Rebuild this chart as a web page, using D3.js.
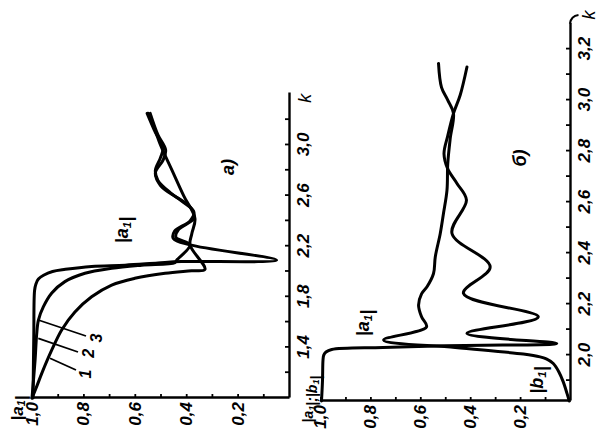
<!DOCTYPE html>
<html>
<head>
<meta charset="utf-8">
<script src="https://cdn.jsdelivr.net/npm/d3@7"></script>
<style>
  body { margin: 0; background: #fff; }
</style>
</head>
<body>
<div id="chart"></div>
<script>
// panel а): |a1| vs k, three cases (1, 2, 3) — [k, |a1|]
const curveA1 = [[1.0,1.0],[1.1,0.98],[1.195,0.962],[1.38,0.923],[1.54,0.884],[1.68,0.833],[1.8,0.768],
  [1.893,0.69],[1.946,0.6],[1.986,0.482],[2.006,0.379],[2.017,0.327],[2.21,0.385],[2.3,0.378],[2.42,0.366],
  [2.6,0.41],[2.8,0.455],[3.0,0.5],[3.17,0.53],[3.25,0.548]];
const curveA2 = [[1.0,1.0],[1.3,0.988],[1.5,0.982],[1.616,0.975],[1.72,0.956],[1.83,0.923],[1.92,0.872],
  [1.986,0.794],[2.025,0.69],[2.05,0.573],[2.07,0.444],[2.09,0.437],[2.21,0.385],[2.27,0.44],[2.33,0.43],
  [2.42,0.37],[2.5,0.38],[2.62,0.46],[2.72,0.51],[2.8,0.52],[2.9,0.5],[2.98,0.49],[3.1,0.52],[3.25,0.552]];
const curveA3 = [[1.0,0.996],[1.5,0.993],[1.85,0.99],[1.9,0.985],[1.94,0.975],[1.97,0.955],[2.0,0.92],
  [2.017,0.87],[2.04,0.768],[2.05,0.638],[2.067,0.51],[2.078,0.418],[2.09,0.048],[2.21,0.385],[2.26,0.45],
  [2.32,0.445],[2.4,0.385],[2.47,0.37],[2.56,0.42],[2.68,0.5],[2.78,0.52],[2.88,0.49],[2.96,0.48],
  [3.08,0.51],[3.25,0.54]];

// panel б): |a1| and |b1| vs k
const curveBa = [[1.82,0.996],[1.9,0.992],[1.98,0.99],[2.0,0.987],[2.012,0.978],[2.022,0.955],[2.03,0.75],
  [2.038,0.42],[2.046,0.053],[2.085,0.413],[2.15,0.127],[2.242,0.427],[2.346,0.32],[2.477,0.473],
  [2.608,0.415],[2.673,0.453],[2.73,0.49],[2.79,0.505],[2.86,0.49],[2.948,0.467],[3.02,0.44],[3.13,0.413]];
const curveBb = [[1.82,0.003],[1.85,0.012],[1.895,0.027],[1.935,0.045],[1.967,0.067],[1.985,0.095],
  [1.993,0.12],[2.004,0.187],[2.03,0.46],[2.059,0.747],[2.111,0.575],[2.15,0.595],[2.196,0.607],
  [2.24,0.595],[2.268,0.573],[2.32,0.547],[2.385,0.54],[2.477,0.52],[2.556,0.507],[2.647,0.493],
  [2.75,0.49],[2.85,0.48],[2.948,0.467],[3.0,0.49],[3.05,0.515],[3.144,0.527]];

const kTicksA = [1.2,1.4,1.6,1.8,2.0,2.2,2.4,2.6,2.8,3.0,3.2];
const kLabelsA = [1.4,1.8,2.2,2.6,3.0];
const kTicksB = [1.9,2.0,2.1,2.2,2.3,2.4,2.5,2.6,2.7,2.8,2.9,3.0,3.1,3.2];
const kLabelsB = [2.0,2.2,2.4,2.6,2.8,3.0,3.2];
const vTicks = [0.1,0.2,0.3,0.4,0.5,0.6,0.7,0.8,0.9,1.0];
const vLabels = [0.2,0.4,0.6,0.8,1.0];

const width = 606;
const height = 438;
const FONT = "'Liberation Sans', Arial, sans-serif";

const svg = d3.select("#chart")
  .append("svg")
  .attr("width", width)
  .attr("height", height)
  .style("background", "#fff");

const fmt = d => d.toFixed(1).replace(".", ",");
const has = (arr, d) => arr.some(v => Math.abs(v - d) < 1e-6);

// builds one panel; the whole panel is drawn in normal orientation then turned -90°
function panel(o) {
  const g = svg.append("g").attr("transform", `translate(${o.ox},${o.oy}) rotate(-90)`);
  const x = d3.scaleLinear().domain(o.kDomain).range([0, o.kLen]);
  const y = d3.scaleLinear().domain([0, 1]).range([o.vLen, 0]);

  const kAxis = d3.axisBottom(x)
    .tickValues(o.kTicks)
    .tickSizeInner(-4)
    .tickSizeOuter(0)
    .tickPadding(8)
    .tickFormat(d => has(o.kLabels, d) ? fmt(d) : "");
  const vAxis = d3.axisLeft(y)
    .tickValues(vTicks)
    .tickSizeInner(-4)
    .tickSizeOuter(0)
    .tickPadding(4)
    .tickFormat(d => has(vLabels, d) ? fmt(d) : "");

  [g.append("g").attr("transform", `translate(0,${o.vLen})`).call(kAxis),
   g.append("g").call(vAxis)].forEach(a => {
    a.attr("font-size", 17).attr("font-family", FONT).attr("font-style", "italic").attr("font-weight", "bold");
    a.select(".domain").attr("stroke", "#000").attr("stroke-width", 2.4);
    a.selectAll(".tick line").attr("stroke", "#000").attr("stroke-width", 1.8);
    a.selectAll(".tick text").attr("fill", "#000");
  });

  const line = d3.line()
    .x(d => x(d[0]))
    .y(d => y(d[1]))
    .curve(d3.curveCatmullRom.alpha(0.5));

  g.selectAll("path.curve")
    .data(o.curves)
    .join("path")
    .attr("class", "curve")
    .attr("d", line)
    .attr("fill", "none")
    .attr("stroke", "#000")
    .attr("stroke-width", 3)
    .attr("stroke-linejoin", "round")
    .attr("stroke-linecap", "round");

  return { g, x, y };
}

// text with subscripts: parts = [["|a", "1"], ["|", null]] ...
function label(g, px, py, parts, size) {
  const fs = size || 17;
  const t = g.append("text")
    .attr("x", px).attr("y", py)
    .attr("text-anchor", "middle")
    .attr("dominant-baseline", "central")
    .attr("font-family", FONT)
    .attr("font-style", "italic")
    .attr("font-weight", "bold")
    .attr("font-size", fs);
  parts.forEach(([s, sub]) => {
    t.append("tspan").text(s);
    if (sub) {
      t.append("tspan").attr("dy", 4).attr("font-size", fs * 0.65).text(sub);
      t.append("tspan").attr("dy", -4).text("");
    }
  });
  return t;
}

// ---- panel а)
const pa = panel({
  ox: 32, oy: 398, kDomain: [1.0, 3.41], kLen: 304.9, vLen: 257,
  kTicks: kTicksA, kLabels: kLabelsA, curves: [curveA1, curveA2, curveA3]
});
label(pa.g, pa.x(3.37), 273, [["k", null]], 18).attr("font-weight", "normal");
label(pa.g, -10, -15, [["|a", "1"], ["|", null]]);
label(pa.g, 168, 90, [["|a", "1"], ["|", null]], 18);
label(pa.g, 231, 196, [["а)", null]], 18);

// leader lines for curve numbers
const leaders = [
  { n: "1", from: [39.7, 18], to: [28, 44], at: [24, 53] },
  { n: "2", from: [59.7, 6.3], to: [46, 46], at: [44.7, 56] },
  { n: "3", from: [78, 6.3], to: [62, 54], at: [60, 64] }
];
leaders.forEach(l => {
  pa.g.append("line")
    .attr("x1", l.from[0]).attr("y1", l.from[1])
    .attr("x2", l.to[0]).attr("y2", l.to[1])
    .attr("stroke", "#000").attr("stroke-width", 1.8);
  label(pa.g, l.at[0], l.at[1], [[l.n, null]], 16);
});

// ---- panel б)
const pb = panel({
  ox: 320.5, oy: 401, kDomain: [1.82, 3.30], kLen: 377.4, vLen: 249.5,
  kTicks: kTicksB, kLabels: kLabelsB, curves: [curveBa, curveBb]
});
// little hook at the end of the k axis
pb.g.append("path")
  .attr("d", `M${377.4},${249.5} Q${385},${250.5} ${386},${258}`)
  .attr("fill", "none").attr("stroke", "#000").attr("stroke-width", 2.2);
label(pb.g, 386, 268, [["k", null]], 18).attr("font-weight", "normal");
label(pb.g, 2, -13, [["|a", "1"], ["|;|b", "1"], ["|", null]], 14);
label(pb.g, 78, 42.5, [["|a", "1"], ["|", null]], 18);
label(pb.g, 21, 216.5, [["|b", "1"], ["|", null]], 18);
label(pb.g, 243, 199.5, [["б)", null]], 18);
</script>
</body>
</html>
